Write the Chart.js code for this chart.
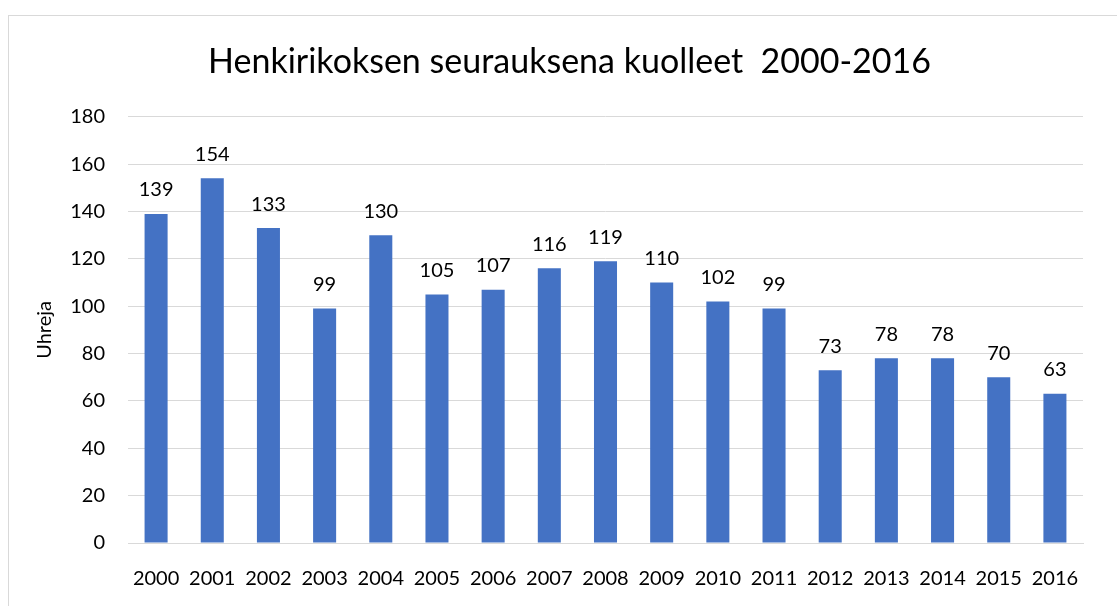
<!DOCTYPE html>
<html>
<head>
<meta charset="utf-8">
<script src="https://cdn.jsdelivr.net/npm/chart.js@4.4.0/dist/chart.umd.min.js"></script>
<style>
  html, body { margin: 0; padding: 0; background: #fff; }
  #wrap { position: relative; width: 1117px; height: 606px; overflow: hidden; }
  #frame { position: absolute; left: 8px; top: 15px; width: 1200px; height: 700px; border: 1px solid #d9d9d9; box-sizing: border-box; }
  canvas { position: absolute; left: 0; top: 0; }
</style>
</head>
<body>
<div id="wrap">
  <div id="frame"></div>
  <canvas id="chart" width="1117" height="606"></canvas>
</div>
<script>
// chart data
const years = ['2000', '2001', '2002', '2003', '2004', '2005', '2006', '2007', '2008',
               '2009', '2010', '2011', '2012', '2013', '2014', '2015', '2016'];
const victims = [139, 154, 133, 99, 130, 105, 107, 116, 119, 110, 102, 99, 73, 78, 78, 70, 63];
const yTicks = [0, 20, 40, 60, 80, 100, 120, 140, 160, 180];

const FONT = "Lato, 'Open Sans', sans-serif";

// draw the value over each bar
const valueLabels = {
    id: 'valueLabels',
    afterDatasetsDraw(chart) {
        const ctx = chart.ctx;
        const meta = chart.getDatasetMeta(0);
        ctx.save();
        ctx.font = '20px ' + FONT;
        ctx.fillStyle = '#000';
        ctx.textAlign = 'center';
        ctx.textBaseline = 'bottom';
        meta.data.forEach((bar, i) => {
            ctx.fillText(victims[i], bar.x, bar.y - 14);
        });
        ctx.restore();
    }
};

new Chart(document.getElementById('chart'), {
    type: 'bar',
    data: {
        labels: years,
        datasets: [{
            data: victims,
            backgroundColor: '#4472c4',
            barPercentage: 0.41,
            categoryPercentage: 1
        }]
    },
    options: {
        responsive: false,
        animation: false,
        layout: { padding: { left: 56, right: 34, top: 0, bottom: 15 } },
        plugins: {
            legend: { display: false },
            tooltip: { enabled: false },
            title: {
                display: true,
                text: 'Henkirikoksen seurauksena kuolleet  2000-2016',
                color: '#000',
                font: { family: FONT, size: 34, weight: 'normal' },
                padding: { top: 42, bottom: 34 }
            }
        },
        scales: {
            x: {
                afterFit(scale) { scale.height = 48; },
                grid: { display: false, drawTicks: false },
                border: { color: '#d9d9d9', width: 1 },
                ticks: {
                    color: '#000',
                    font: { family: FONT, size: 20 },
                    padding: 24,
                    maxRotation: 0,
                    autoSkip: false
                }
            },
            y: {
                min: 0,
                max: 180,
                afterBuildTicks(scale) {
                    scale.ticks = yTicks.map(v => ({ value: v }));
                },
                afterFit(scale) { scale.width = 72; },
                grid: { color: '#d9d9d9', drawTicks: false },
                border: { display: false },
                ticks: {
                    color: '#000',
                    font: { family: FONT, size: 20 },
                    padding: 23
                },
                title: {
                    display: true,
                    text: 'Uhreja',
                    color: '#000',
                    font: { family: FONT, size: 20 },
                    padding: { top: -23, bottom: 0 }
                }
            }
        }
    },
    plugins: [valueLabels]
});
</script>
</body>
</html>
